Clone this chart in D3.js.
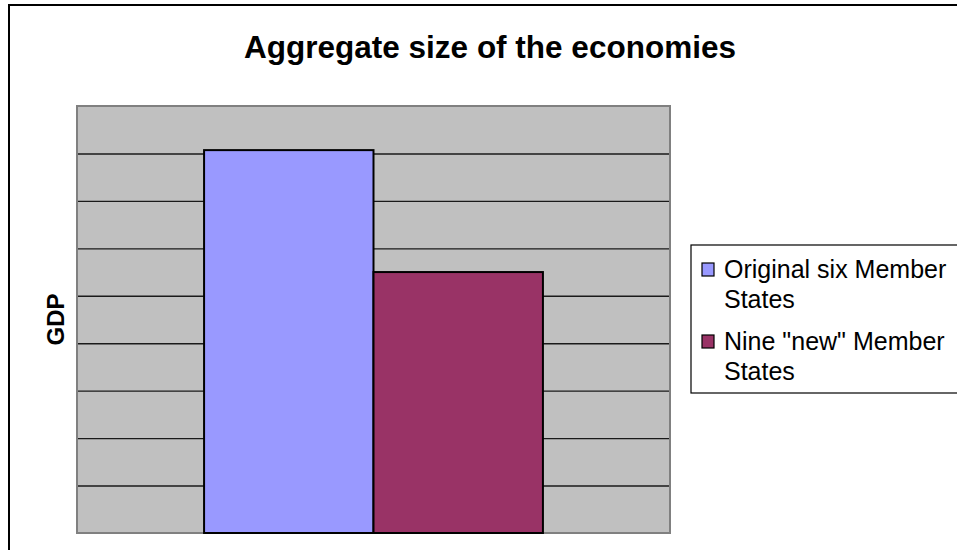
<!DOCTYPE html>
<html>
<head>
<meta charset="utf-8">
<script src="https://cdn.jsdelivr.net/npm/d3@7"></script>
<style>
  html, body { margin: 0; padding: 0; background: #fff; }
  svg { display: block; font-family: Arial, "Liberation Sans", sans-serif; }
</style>
</head>
<body>
<svg id="chart" width="957" height="550"></svg>
<script>
// Chart content
const chartTitle = "Aggregate size of the economies";
const yAxisTitle = "GDP";
const categories = ["GDP"];
const seriesNames = ["Original six Member States", "Nine \"new\" Member States"];
const seriesLegendLines = [["Original six Member", "States"], ["Nine \"new\" Member", "States"]];
const seriesValues = [8.07, 5.5];
const seriesColors = ["#9999FF", "#993366"];
const yTicks = [0, 1, 2, 3, 4, 5, 6, 7, 8, 9];

const svg = d3.select("#chart");

// Outer chart frame (runs off the right and bottom edges)
svg.append("rect")
  .attr("x", 9).attr("y", 5)
  .attr("width", 960).attr("height", 560)
  .attr("fill", "#fff").attr("stroke", "#000").attr("stroke-width", 2);

// Plot area
const plot = { left: 77, top: 106, right: 670, bottom: 533 };

const x = d3.scaleBand()
  .domain(categories)
  .range([plot.left, plot.right])
  .paddingInner(0)
  .paddingOuter(0.375);

const xSeries = d3.scaleBand()
  .domain(seriesNames)
  .range([0, x.bandwidth()]);

const y = d3.scaleLinear()
  .domain([0, d3.max(yTicks)])
  .range([plot.bottom, plot.top]);

svg.append("rect")
  .attr("x", plot.left).attr("y", plot.top)
  .attr("width", plot.right - plot.left).attr("height", plot.bottom - plot.top)
  .attr("fill", "#C0C0C0");

// Horizontal gridlines via an axis with full-width ticks and no labels
const grid = svg.append("g")
  .attr("transform", `translate(${plot.left},0)`)
  .call(d3.axisLeft(y).tickValues(yTicks.slice(1, -1))
    .tickSize(-(plot.right - plot.left)).tickFormat(""));
grid.select(".domain").remove();
grid.selectAll(".tick line")
  .attr("stroke", "#1a1a1a").attr("stroke-width", 1.4);

// Plot border
svg.append("rect")
  .attr("x", plot.left).attr("y", plot.top)
  .attr("width", plot.right - plot.left).attr("height", plot.bottom - plot.top)
  .attr("fill", "none").attr("stroke", "#808080").attr("stroke-width", 2);

// Bars
const bars = categories.flatMap(c => seriesNames.map((s, i) => ({ c, s, v: seriesValues[i], color: seriesColors[i] })));
svg.append("g").selectAll("rect")
  .data(bars)
  .join("rect")
  .attr("x", d => x(d.c) + xSeries(d.s))
  .attr("y", d => y(d.v))
  .attr("width", xSeries.bandwidth())
  .attr("height", d => y(0) - y(d.v))
  .attr("fill", d => d.color)
  .attr("stroke", "#000")
  .attr("stroke-width", 2);

// Title
svg.append("text")
  .attr("x", 490).attr("y", 58)
  .attr("text-anchor", "middle")
  .attr("font-size", 31.5).attr("font-weight", "bold")
  .text(chartTitle);

// Y axis title
svg.append("text")
  .attr("transform", `translate(64,${(plot.top + plot.bottom) / 2}) rotate(-90)`)
  .attr("text-anchor", "middle")
  .attr("font-size", 24).attr("font-weight", "bold")
  .text(yAxisTitle);

// Legend
const legend = svg.append("g");
legend.append("rect")
  .attr("x", 691).attr("y", 245)
  .attr("width", 300).attr("height", 148)
  .attr("fill", "#fff").attr("stroke", "#000").attr("stroke-width", 1.2);

const entry = legend.selectAll("g.entry")
  .data(seriesNames)
  .join("g")
  .attr("class", "entry")
  .attr("transform", (d, i) => `translate(0,${i * 72})`);

entry.append("rect")
  .attr("x", 702).attr("y", 263)
  .attr("width", 12).attr("height", 13)
  .attr("fill", (d, i) => seriesColors[i])
  .attr("stroke", "#000").attr("stroke-width", 1.2);

entry.append("text")
  .attr("font-size", 25)
  .selectAll("tspan")
  .data((d, i) => seriesLegendLines[i])
  .join("tspan")
  .attr("x", 724)
  .attr("y", (d, j) => 278 + j * 30)
  .text(d => d);
</script>
</body>
</html>
